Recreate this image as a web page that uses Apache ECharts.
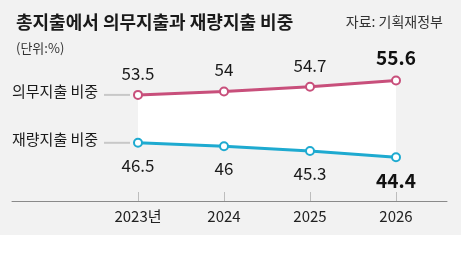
<!DOCTYPE html>
<html>
<head>
<meta charset="utf-8">
<script src="https://cdn.jsdelivr.net/npm/echarts@6/dist/echarts.min.js"></script>
<style>
  html, body { margin: 0; padding: 0; background: #fff; }
  #chart { width: 461px; height: 267px; }
</style>
</head>
<body>
<div id="chart"></div>
<script>
// 데이터
const years = [2023, 2024, 2025, 2026]
const yearLabels = ['2023년', '2024', '2025', '2026']
const mandatory = [53.5, 54, 54.7, 55.6] // 의무지출 비중
const discretionary = [46.5, 46, 45.3, 44.4] // 재량지출 비중

const FONT = 'Noto Sans CJK KR'
const RED = '#c84f7b'
const BLUE = '#1eaad0'
const BG = '#f2f2f2'

const chart = echarts.init(document.getElementById('chart'))

// 마지막 값은 굵게
function points(values) {
  return values.map((v, i) => {
    const item = { value: [years[i], v] }
    if (i === values.length - 1) {
      item.label = { fontSize: 19, fontWeight: 'bold', color: '#111' }
    }
    return item
  })
}

const option = {
  backgroundColor: BG,
  animation: false,
  textStyle: { fontFamily: FONT },
  title: [
    {
      text: '총지출에서 의무지출과 재량지출 비중',
      left: 11,
      top: 8,
      textStyle: { fontFamily: FONT, fontSize: 18, fontWeight: 'bold', color: '#1a1a1a' },
    },
    {
      text: '자료: 기획재정부',
      right: 13,
      top: 10,
      textStyle: { fontFamily: FONT, fontSize: 14, fontWeight: 'normal', color: '#333' },
    },
    {
      text: '(단위:%)',
      left: 11,
      top: 37,
      textStyle: { fontFamily: FONT, fontSize: 13, fontWeight: 'normal', color: '#333' },
    },
  ],
  grid: { left: 12, right: 14, top: 60, bottom: 66 },
  xAxis: {
    type: 'value',
    min: 2021.535,
    max: 2026.593,
    z: 3,
    splitLine: { show: false },
    axisLine: { show: true, lineStyle: { color: '#8a8a8a', width: 1 } },
    axisTick: {
      show: true,
      inside: true,
      length: 9,
      customValues: years,
      lineStyle: { color: '#bdbdbd', width: 1 },
    },
    axisLabel: {
      customValues: years,
      margin: 8,
      fontSize: 15,
      color: '#222',
      fontFamily: FONT,
      formatter: (v) => yearLabels[years.indexOf(v)],
    },
  },
  yAxis: {
    type: 'value',
    min: 38,
    max: 58.6,
    show: false,
    splitLine: { show: false },
  },
  series: [
    {
      name: '의무지출 비중',
      type: 'line',
      data: points(mandatory),
      symbol: 'emptyCircle',
      symbolSize: 8,
      color: RED,
      lineStyle: { color: RED, width: 3 },
      itemStyle: { color: RED, borderWidth: 2 },
      areaStyle: { color: '#fff', opacity: 1, origin: 'start' },
      label: {
        show: true,
        position: 'top',
        distance: 8,
        fontSize: 17,
        color: '#1a1a1a',
        fontFamily: FONT,
        formatter: (p) => p.value[1],
      },
    },
    {
      name: '재량지출 비중',
      type: 'line',
      data: points(discretionary),
      symbol: 'emptyCircle',
      symbolSize: 8,
      color: BLUE,
      lineStyle: { color: BLUE, width: 3 },
      itemStyle: { color: BLUE, borderWidth: 2 },
      areaStyle: { color: BG, opacity: 1, origin: 'start' },
      label: {
        show: true,
        position: 'bottom',
        distance: 9,
        fontSize: 17,
        color: '#1a1a1a',
        fontFamily: FONT,
        formatter: (p) => p.value[1],
      },
    },
  ],
}

chart.setOption(option)

// 범례 글자와 회색 연결선
const p1 = chart.convertToPixel({ gridIndex: 0 }, [years[0], mandatory[0]])
const p2 = chart.convertToPixel({ gridIndex: 0 }, [years[0], discretionary[0]])
const legendText = (txt, y) => ({
  type: 'text',
  left: 12,
  top: y - 11,
  style: { text: txt, fontSize: 15, fill: '#1a1a1a', fontFamily: FONT },
})
const connector = (p) => ({
  type: 'line',
  shape: { x1: p[0] - 34, y1: p[1], x2: p[0] - 8, y2: p[1] },
  style: { stroke: '#c8c8c8', lineWidth: 2 },
})
chart.setOption({
  graphic: [
    {
      type: 'rect',
      shape: { x: 0, y: 235, width: 461, height: 32 },
      style: { fill: '#fff' },
      z: -1,
    },
    legendText('의무지출 비중', p1[1]),
    legendText('재량지출 비중', p2[1]),
    connector(p1),
    connector(p2),
  ],
})
</script>
</body>
</html>
